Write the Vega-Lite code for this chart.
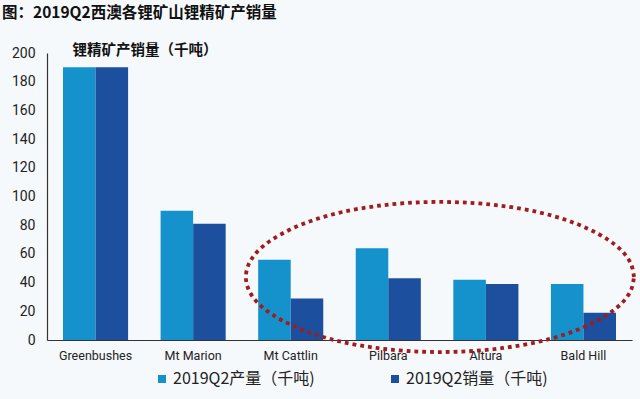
{
  "$schema": "https://vega.github.io/schema/vega-lite/v6.json",
  "width": 585,
  "height": 287,
  "autosize": {"type": "none"},
  "padding": {"left": 47, "top": 53, "right": 8, "bottom": 59},
  "background": "#f6f9fc",
  "config": {
    "view": {"stroke": null},
    "font": "Noto Sans CJK SC",
    "axisY": {"labelOverlap": false}
  },
  "title": {
    "text": "图：2019Q2西澳各锂矿山锂精矿产销量",
    "anchor": "start",
    "frame": "group",
    "dx": -45,
    "offset": 21,
    "fontSize": 15.5,
    "fontWeight": "bold",
    "color": "#111111",
    "font": "Noto Sans CJK SC"
  },
  "encoding": {
    "y": {
      "field": "value",
      "type": "quantitative",
      "scale": {"domain": [0, 200], "nice": false},
      "axis": {
        "values": [0, 20, 40, 60, 80, 100, 120, 140, 160, 180, 200],
        "tickCount": 11,
        "labelOverlap": false,
        "grid": false,
        "ticks": false,
        "labelFont": "Roboto",
        "labelFontSize": 14,
        "labelColor": "#222222",
        "labelPadding": 12,
        "domainColor": "#333333",
        "domainWidth": 1.2,
        "title": "锂精矿产销量（千吨）",
        "titleAngle": 0,
        "titleAlign": "left",
        "titleBaseline": "middle",
        "titleX": 25,
        "titleY": -3,
        "titleFont": "Noto Sans CJK SC",
        "titleFontSize": 14.5,
        "titleFontWeight": "bold",
        "titleColor": "#111111"
      }
    }
  },
  "layer": [
    {
      "data": {
        "values": [
          {"mine": "Greenbushes", "series": "2019Q2产量（千吨)", "value": 190},
          {"mine": "Greenbushes", "series": "2019Q2销量（千吨)", "value": 190},
          {"mine": "Mt Marion", "series": "2019Q2产量（千吨)", "value": 90},
          {"mine": "Mt Marion", "series": "2019Q2销量（千吨)", "value": 81},
          {"mine": "Mt Cattlin", "series": "2019Q2产量（千吨)", "value": 56},
          {"mine": "Mt Cattlin", "series": "2019Q2销量（千吨)", "value": 29},
          {"mine": "Pilbara", "series": "2019Q2产量（千吨)", "value": 64},
          {"mine": "Pilbara", "series": "2019Q2销量（千吨)", "value": 43},
          {"mine": "Altura", "series": "2019Q2产量（千吨)", "value": 42},
          {"mine": "Altura", "series": "2019Q2销量（千吨)", "value": 39},
          {"mine": "Bald Hill", "series": "2019Q2产量（千吨)", "value": 39},
          {"mine": "Bald Hill", "series": "2019Q2销量（千吨)", "value": 19}
        ]
      },
      "mark": {"type": "bar"},
      "encoding": {
        "x": {
          "field": "mine",
          "type": "nominal",
          "sort": null,
          "scale": {"paddingInner": 0.333, "paddingOuter": 0.164},
          "axis": {
            "title": null,
            "labelAngle": 0,
            "labelFont": "Roboto",
            "labelFontSize": 12.5,
            "labelColor": "#222222",
            "labelPadding": 9,
            "ticks": false,
            "domainColor": "#333333",
            "domainWidth": 1.2
          }
        },
        "xOffset": {"field": "series", "type": "nominal", "sort": null},
        "color": {
          "field": "series",
          "type": "nominal",
          "sort": null,
          "scale": {"range": ["#1592cc", "#1c4f9e"]},
          "legend": {
            "title": null,
            "orient": "none",
            "direction": "horizontal",
            "legendX": 107,
            "legendY": 318,
            "symbolType": "square",
            "symbolSize": 64,
            "symbolStrokeWidth": 0,
            "labelFont": "Noto Sans CJK SC",
            "labelFontSize": 16,
            "labelColor": "#222222",
            "labelOffset": 3,
            "columnPadding": 72,
            "labelLimit": 300
          }
        }
      }
    },
    {
      "data": {
        "values": [
          {"i": 0, "x": 6.02, "value": 43.9},
          {"i": 1, "x": 5.99, "value": 53.0},
          {"i": 2, "x": 5.90, "value": 61.8},
          {"i": 3, "x": 5.75, "value": 70.05},
          {"i": 4, "x": 5.55, "value": 77.5},
          {"i": 5, "x": 5.31, "value": 83.96},
          {"i": 6, "x": 5.03, "value": 89.19},
          {"i": 7, "x": 4.71, "value": 93.06},
          {"i": 8, "x": 4.38, "value": 95.42},
          {"i": 9, "x": 4.03, "value": 96.2},
          {"i": 10, "x": 3.68, "value": 95.42},
          {"i": 11, "x": 3.35, "value": 93.06},
          {"i": 12, "x": 3.03, "value": 89.19},
          {"i": 13, "x": 2.75, "value": 83.96},
          {"i": 14, "x": 2.51, "value": 77.5},
          {"i": 15, "x": 2.31, "value": 70.05},
          {"i": 16, "x": 2.16, "value": 61.8},
          {"i": 17, "x": 2.07, "value": 53.0},
          {"i": 18, "x": 2.04, "value": 43.9},
          {"i": 19, "x": 2.07, "value": 34.8},
          {"i": 20, "x": 2.16, "value": 26.0},
          {"i": 21, "x": 2.31, "value": 17.75},
          {"i": 22, "x": 2.51, "value": 10.3},
          {"i": 23, "x": 2.75, "value": 3.84},
          {"i": 24, "x": 3.03, "value": -1.39},
          {"i": 25, "x": 3.35, "value": -5.26},
          {"i": 26, "x": 3.68, "value": -7.62},
          {"i": 27, "x": 4.03, "value": -8.4},
          {"i": 28, "x": 4.38, "value": -7.62},
          {"i": 29, "x": 4.71, "value": -5.26},
          {"i": 30, "x": 5.03, "value": -1.39},
          {"i": 31, "x": 5.31, "value": 3.84},
          {"i": 32, "x": 5.55, "value": 10.3},
          {"i": 33, "x": 5.75, "value": 17.75},
          {"i": 34, "x": 5.90, "value": 26.0},
          {"i": 35, "x": 5.99, "value": 34.8},
          {"i": 36, "x": 6.02, "value": 43.9}
        ]
      },
      "mark": {
        "type": "line",
        "interpolate": "cardinal",
        "stroke": "#a11d1d",
        "strokeWidth": 3.8,
        "strokeDash": [3.8, 4],
        "strokeCap": "butt",
        "clip": false
      },
      "encoding": {
        "x": {"field": "x", "type": "quantitative", "scale": {"domain": [0, 6], "nice": false, "zero": false}, "axis": null},
        "order": {"field": "i", "type": "quantitative"}
      }
    }
  ],
  "resolve": {"scale": {"x": "independent"}}
}
